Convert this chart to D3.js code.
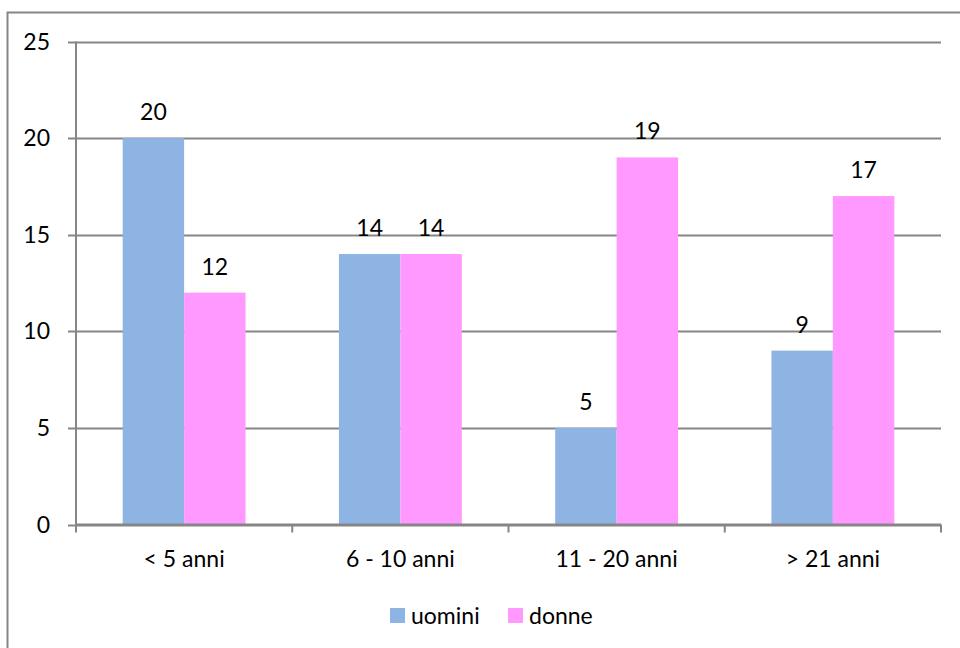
<!DOCTYPE html>
<html>
<head>
<meta charset="utf-8">
<script src="https://cdnjs.cloudflare.com/ajax/libs/d3/7.8.5/d3.min.js"></script>
<style>
    body { margin: 0; background: #fff; }
    svg { display: block; font-family: Lato, "Open Sans", sans-serif; }
</style>
</head>
<body>
<svg id="chart" width="960" height="648"></svg>
<script>
const categories = ["< 5 anni", "6 - 10 anni", "11 - 20 anni", "> 21 anni"];
const seriesNames = ["uomini", "donne"];
const uomini = [20, 14, 5, 9];
const donne = [12, 14, 19, 17];
const yTicks = [0, 5, 10, 15, 20, 25];
const colors = ["#8eb4e3", "#ff99ff"];

const svg = d3.select("#chart");
const plotLeft = 76, plotRight = 941, plotTop = 41.5, plotBottom = 524.5;
const gridColor = "#868686";
const fontSize = 23;

// outer chart frame (runs off the right and bottom edges)
svg.append("rect")
    .attr("x", 7.5).attr("y", 12.5)
    .attr("width", 1000).attr("height", 700)
    .attr("fill", "none").attr("stroke", gridColor).attr("stroke-width", 2);

const x0 = d3.scaleBand().domain(categories).range([plotLeft, plotRight]).padding(0);
const x1 = d3.scaleBand().domain(seriesNames).range([0, x0.bandwidth()])
    .paddingInner(0).paddingOuter(0.76);
const y = d3.scaleLinear().domain([0, 25]).range([plotBottom, plotTop]);

// gridlines + y tick marks
svg.append("g").selectAll("line")
    .data(yTicks)
    .join("line")
    .attr("x1", plotLeft - 8).attr("x2", plotRight)
    .attr("y1", d => Math.round(y(d)) + 0.5).attr("y2", d => Math.round(y(d)) + 0.5)
    .attr("stroke", gridColor).attr("stroke-width", 2);

// y labels
svg.append("g").selectAll("text")
    .data(yTicks)
    .join("text")
    .attr("x", 50).attr("y", d => y(d))
    .attr("dy", "0.35em")
    .attr("text-anchor", "end")
    .attr("font-size", fontSize)
    .text(d => d);

const rows = categories.map((c, i) => ({ cat: c, values: [uomini[i], donne[i]] }));

// bars
const groups = svg.append("g").selectAll("g")
    .data(rows)
    .join("g")
    .attr("transform", d => `translate(${x0(d.cat)},0)`);

groups.selectAll("rect")
    .data(d => d.values.map((v, j) => ({ key: seriesNames[j], v, j })))
    .join("rect")
    .attr("x", d => x1(d.key))
    .attr("y", d => y(d.v))
    .attr("width", x1.bandwidth())
    .attr("height", d => y(0) - y(d.v))
    .attr("fill", d => colors[d.j]);

groups.selectAll("text")
    .data(d => d.values.map((v, j) => ({ key: seriesNames[j], v, j })))
    .join("text")
    .attr("x", d => x1(d.key) + x1.bandwidth() / 2)
    .attr("y", d => y(d.v) - 26)
    .attr("dy", "0.35em")
    .attr("text-anchor", "middle")
    .attr("font-size", fontSize)
    .text(d => d.v);

// y axis line
svg.append("line")
    .attr("x1", plotLeft).attr("x2", plotLeft)
    .attr("y1", plotTop).attr("y2", plotBottom)
    .attr("stroke", gridColor).attr("stroke-width", 2);

// x axis line and ticks at category boundaries
svg.append("line")
    .attr("x1", plotLeft).attr("x2", plotRight)
    .attr("y1", plotBottom).attr("y2", plotBottom)
    .attr("stroke", gridColor).attr("stroke-width", 2);

const bounds = categories.map(c => x0(c)).concat([plotRight]);
svg.append("g").selectAll("line")
    .data(bounds)
    .join("line")
    .attr("x1", d => d).attr("x2", d => d)
    .attr("y1", plotBottom).attr("y2", plotBottom + 8)
    .attr("stroke", gridColor).attr("stroke-width", 2);

// category labels
svg.append("g").selectAll("text")
    .data(categories)
    .join("text")
    .attr("x", d => x0(d) + x0.bandwidth() / 2)
    .attr("y", 559)
    .attr("dy", "0.35em")
    .attr("text-anchor", "middle")
    .attr("font-size", fontSize)
    .text(d => d);

// legend
const legendX = [390, 508];
const legend = svg.append("g").selectAll("g")
    .data(seriesNames)
    .join("g")
    .attr("transform", (d, i) => `translate(${legendX[i]},608)`);
legend.append("rect")
    .attr("width", 15).attr("height", 15)
    .attr("fill", (d, i) => colors[i]);
legend.append("text")
    .attr("x", 21).attr("y", 8)
    .attr("dy", "0.35em")
    .attr("font-size", fontSize)
    .text(d => d);
</script>
</body>
</html>
